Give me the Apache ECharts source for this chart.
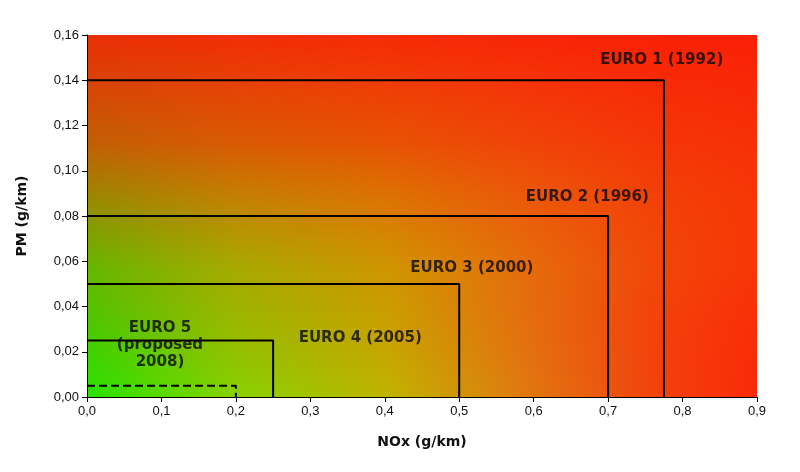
<!DOCTYPE html>
<html><head><meta charset="utf-8">
<script src="https://cdn.jsdelivr.net/npm/echarts@6/dist/echarts.min.js"></script>
<style>html,body{margin:0;background:#fff}#c{width:800px;height:472px}</style>
</head><body><div id="c"></div>
<script>
// limits: [NOx, PM]
var stages = ['EURO 1 (1992)', 'EURO 2 (1996)', 'EURO 3 (2000)', 'EURO 4 (2005)', 'EURO 5\n(proposed\n2008)'];
var noxLimits = [0.775, 0.7, 0.5, 0.25, 0.2];
var pmLimits = [0.14, 0.08, 0.05, 0.025, 0.005];
var labelX = [0.772, 0.672, 0.517, 0.367, 0.098];
var labelY = [0.149, 0.0885, 0.057, 0.026, 0.023];

var chart = echarts.init(document.getElementById('c'));
var comma = function (d) { return function (v) { return v.toFixed(d).replace('.', ','); }; };

var series = stages.map(function (s, i) {
  return {
    type: 'line', name: s, symbol: 'none', silent: true,
    data: [[0, pmLimits[i]], [noxLimits[i], pmLimits[i]], [noxLimits[i], 0]],
    lineStyle: { color: '#000', width: 2, type: i === 4 ? 'dashed' : 'solid' }
  };
});
series.push({
  type: 'scatter', symbolSize: 0, silent: true,
  data: stages.map(function (s, i) { return { value: [labelX[i], labelY[i]], name: s }; }),
  label: {
    show: true, position: 'inside', formatter: '{b}', color: '#0a0a0a',
    fontFamily: 'DejaVu Sans', fontWeight: 900, fontSize: 15, lineHeight: 17
  }
});

chart.setOption({
  animation: false,
  // horizontal base colour, under the grid background
  graphic: [{
    type: 'rect', z: -10, shape: { x: 87, y: 35, width: 670, height: 362 },
    style: {
      fill: new echarts.graphic.LinearGradient(0, 0, 1, 0, [
        { offset: 0, color: '#28e400' },
        { offset: 0.22, color: '#86d200' },
        { offset: 0.45, color: '#c0b400' },
        { offset: 0.65, color: '#e07a10' },
        { offset: 0.85, color: '#f2420c' },
        { offset: 1, color: '#fa2a08' }
      ])
    }
  }],
  grid: {
    left: 87, right: 43, top: 35, bottom: 75, show: true, borderWidth: 0,
    backgroundColor: new echarts.graphic.LinearGradient(0, 1, 0, 0, [
      { offset: 0, color: 'rgba(255,40,0,0)' },
      { offset: 0.35, color: 'rgba(240,80,0,0.3)' },
      { offset: 0.7, color: 'rgba(245,50,5,0.75)' },
      { offset: 1, color: 'rgba(250,30,5,0.92)' }
    ])
  },
  xAxis: {
    type: 'value', min: 0, max: 0.9, interval: 0.1,
    name: 'NOx (g/km)', nameLocation: 'middle', nameGap: 38,
    nameTextStyle: { fontWeight: 'bold', fontSize: 14, color: '#111', fontFamily: 'DejaVu Sans' },
    axisLine: { lineStyle: { color: '#000' } },
    axisTick: { show: true, lineStyle: { color: '#000' } },
    axisLabel: { formatter: comma(1), color: '#111', fontSize: 13, fontFamily: 'Liberation Sans' },
    splitLine: { show: false }
  },
  yAxis: {
    type: 'value', min: 0, max: 0.16, interval: 0.02,
    name: 'PM (g/km)', nameLocation: 'middle', nameGap: 58,
    nameTextStyle: { fontWeight: 'bold', fontSize: 14, color: '#111', fontFamily: 'DejaVu Sans' },
    axisLine: { show: true, lineStyle: { color: '#000' } },
    axisTick: { show: true, lineStyle: { color: '#000' } },
    axisLabel: { formatter: comma(2), color: '#111', fontSize: 13, fontFamily: 'Liberation Sans' },
    splitLine: { show: false }
  },
  series: series
});
</script></body></html>
